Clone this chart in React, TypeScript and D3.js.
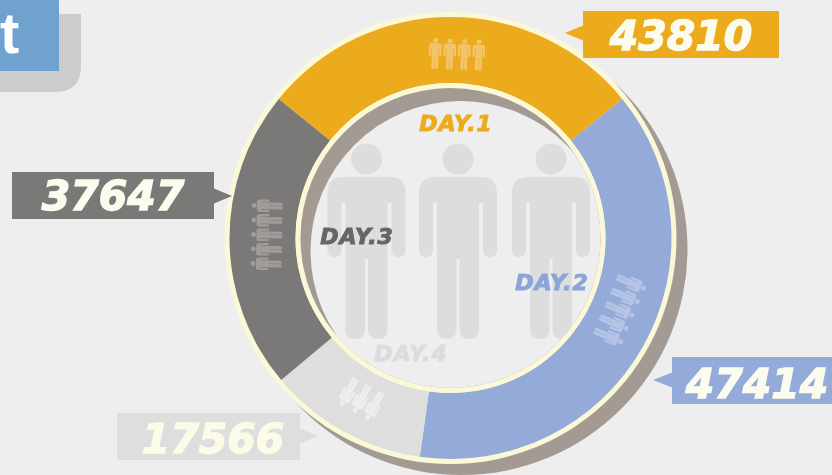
import React from 'react';
import * as d3 from 'd3';

const days = ['DAY.1', 'DAY.2', 'DAY.4', 'DAY.3'];
const totals = [43810, 47414, 17566, 37647];
// arc spans as drawn in the picture, degrees (not proportional to the totals)
const spans = [102, 137, 42, 79];
const colors = ['#ecab1c', '#94aad8', '#dedede', '#7a7978'];
const dayColors = ['#ecab1c', '#8ba5d8', '#dcdcdc', '#666666'];
const numberColors = ['#fbfbee', '#fbfbee', '#fbfbe8', '#fbfbee'];
const iconCounts = [4, 5, 3, 5];
const iconAngles = [2, 113, 209, 271];
const iconColors = ['#f2c56c', '#b5c4e5', '#eeeeee', '#a09c9a'];

const dayPos = [[456, 131], [552, 290], [411, 361], [357, 244]];
const boxes = [
  { x: 583, y: 11, w: 196, h: 47, tip: [565, 33], side: 'left', tx: 681, base: 50 },
  { x: 672, y: 357, w: 160, h: 47, tip: [653, 380], side: 'left', tx: 757, base: 398 },
  { x: 117, y: 413, w: 183, h: 47, tip: [318, 436], side: 'right', tx: 213, base: 453 },
  { x: 12, y: 172, w: 202, h: 47, tip: [232, 196], side: 'right', tx: 113, base: 210 },
];

const cx = 450.5;
const cy = 238;
const bigPeople = [366.5, 458, 551];

// person outline, 78 wide, head centre at 0, feet at 180
const personBody = 'M-23,18 H23 Q39,18 39,34 V91 Q39,98 32,98 Q25,98 25,91 V44 H21 V171 Q21,180 11.5,180 Q2,180 1.5,171 V100 H-1.5 V171 Q-2,180 -11.5,180 Q-21,180 -21,171 V44 H-25 V91 Q-25,98 -32,98 Q-39,98 -39,91 V34 Q-39,18 -23,18 Z';

const Person = ({ x, y, s, fill }: { x: number; y: number; s: number; fill: string }) => (
  <g transform={`translate(${x},${y}) scale(${s})`} fill={fill}>
    <circle cx={0} cy={0} r={15.5} />
    <path d={personBody} />
  </g>
);

const rad = (d: number) => (d * Math.PI) / 180;

export default function App() {
  const pie = d3
    .pie<number>()
    .sort(null)
    .value(d => d)
    .startAngle(rad(-51))
    .endAngle(rad(309));
  const slices = pie(spans);
  const arc = d3.arc<any>().innerRadius(155).outerRadius(221);
  const ring = d3.arc<any>().startAngle(0).endAngle(2 * Math.PI);

  return (
    <svg
      width={832}
      height={475}
      style={{ position: 'absolute', left: 0, top: 0, background: '#eeeeee' }}
    >
      <defs>
        <filter id="soft" x="-5%" y="-5%" width="110%" height="110%">
          <feGaussianBlur stdDeviation="0.55" />
        </filter>
        <clipPath id="inside">
          <circle cx={cx} cy={cy} r={150} />
        </clipPath>
      </defs>
      <g filter="url(#soft)">
        {/* title block cut by the page edge */}
        <path d="M0,14 H81 V66 Q81,92 55,92 H0 Z" fill="#cccccc" />
        <rect x={0} y={0} width={59} height={71} fill="#6fa2d0" />
        <text x={0} y={53} fontFamily="Liberation Sans" fontWeight="bold" fontSize={58} fill="#ffffff">
          t
        </text>

        {/* drop shadow of the ring */}
        <circle cx={cx + 11} cy={cy + 11} r={226} fill="#a39a94" />
        <circle cx={cx} cy={cy} r={226} fill="#fbf8d8" />
        <g transform={`translate(${cx},${cy})`}>
          {slices.map((s, i) => (
            <path key={days[i]} d={arc(s) as string} fill={colors[i]} />
          ))}
          <path d={ring({ innerRadius: 150, outerRadius: 155 }) as string} fill="#fbf8d8" />
        </g>

        {/* inside of the ring, with the crescent of shadow */}
        <g clipPath="url(#inside)">
          <rect x={cx - 155} y={cy - 155} width={310} height={310} fill="#a39a94" />
          <circle cx={cx + 10} cy={cy + 13} r={150} fill="#eeeeee" />
        </g>

        {bigPeople.map(x => (
          <g key={x} clipPath="url(#inside)">
            <Person x={x} y={159} s={1} fill="#dddddd" />
          </g>
        ))}

        {/* small figures inside each segment */}
        {iconCounts.map((n, i) => {
          const a = rad(iconAngles[i]);
          const [px, py] = [Math.sin(a) * 184, -Math.cos(a) * 184];
          const xs = d3.range(n).map(k => (k - (n - 1) / 2) * 14.5);
          return (
            <g
              key={days[i]}
              transform={`translate(${cx + px},${cy + py}) rotate(${iconAngles[i]})`}
            >
              {xs.map(x => (
                <Person key={x} x={x} y={-13} s={0.16} fill={iconColors[i]} />
              ))}
            </g>
          );
        })}

        {days.map((d, i) => (
          <text
            key={d}
            x={dayPos[i][0]}
            y={dayPos[i][1]}
            textAnchor="middle"
            fontFamily="DejaVu Sans"
            fontWeight="bold"
            fontStyle="italic"
            fontSize={22}
            letterSpacing={1}
            stroke={dayColors[i]}
            strokeWidth={1}
            fill={dayColors[i]}
          >
            {d}
          </text>
        ))}

        {/* value callouts */}
        {boxes.map((b, i) => {
          const edge = b.side === 'left' ? b.x : b.x + b.w;
          const tipPath = `M${edge},${b.tip[1] - 7.5} L${b.tip[0]},${b.tip[1]} L${edge},${b.tip[1] + 7.5} Z`;
          return (
            <g key={totals[i]}>
              <rect x={b.x} y={b.y} width={b.w} height={b.h} fill={colors[i]} />
              <path d={tipPath} fill={colors[i]} />
              <text
                x={b.tx}
                y={b.base}
                textAnchor="middle"
                fontFamily="DejaVu Sans"
                fontWeight="bold"
                fontStyle="italic"
                fontSize={41}
                stroke={numberColors[i]}
                strokeWidth={1.4}
                fill={numberColors[i]}
              >
                {totals[i]}
              </text>
            </g>
          );
        })}
      </g>
    </svg>
  );
}
